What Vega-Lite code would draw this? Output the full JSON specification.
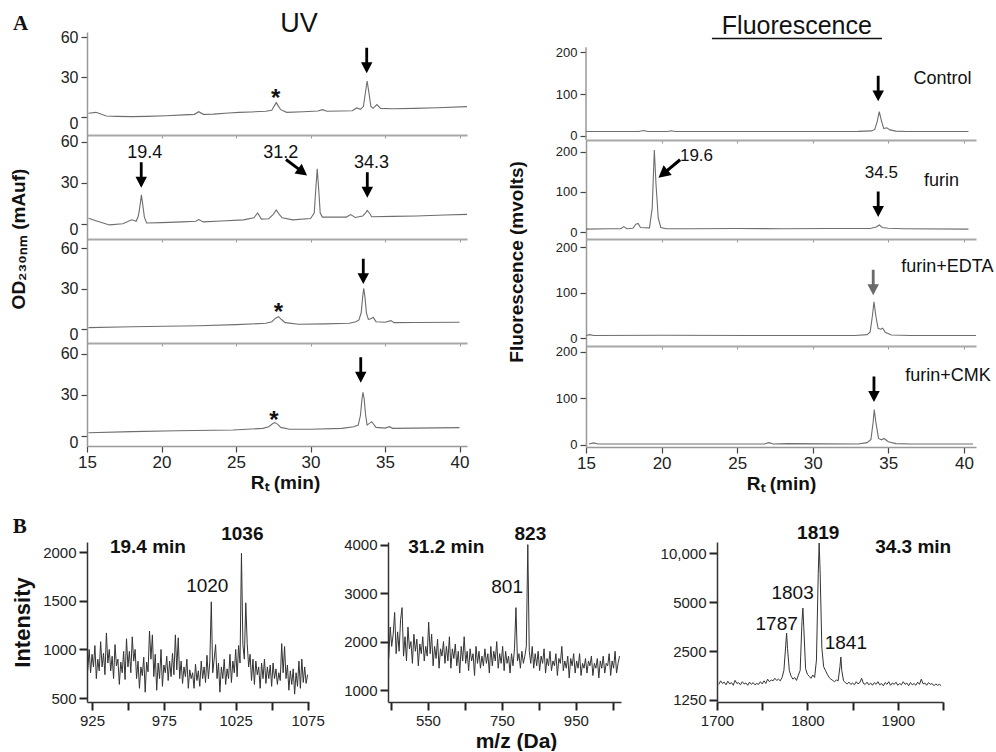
{
"$schema": "https://vega.github.io/schema/vega-lite/v6.json",
"background": "white",
"padding": {"left": 10, "top": 10, "right": 0, "bottom": 0},
"config": {"view": {"stroke": null}, "font": "Liberation Sans", "axis": {"labelFont": "Liberation Sans", "titleFont": "Liberation Sans", "grid": false}, "text": {"font": "Liberation Sans"}},
"datasets": {
"tr": [
{"p":"uv1","t":15.1,"v":2.8},{"p":"uv1","t":15.6,"v":3.5},{"p":"uv1","t":16.3,"v":0.8},{"p":"uv1","t":17,"v":0.5},{"p":"uv1","t":18,"v":0.3},{"p":"uv1","t":19,"v":0.5},{"p":"uv1","t":20.3,"v":1.0},{"p":"uv1","t":21.5,"v":1.6},{"p":"uv1","t":22.2,"v":2.0},{"p":"uv1","t":22.5,"v":4.0},{"p":"uv1","t":22.8,"v":2.0},{"p":"uv1","t":23.5,"v":2.2},{"p":"uv1","t":24.5,"v":3.0},{"p":"uv1","t":25.2,"v":3.5},{"p":"uv1","t":26,"v":3.8},{"p":"uv1","t":27,"v":4.3},{"p":"uv1","t":27.4,"v":5},{"p":"uv1","t":27.55,"v":8},{"p":"uv1","t":27.7,"v":10.8},{"p":"uv1","t":27.85,"v":8},{"p":"uv1","t":28,"v":5.5},{"p":"uv1","t":28.4,"v":3.5},{"p":"uv1","t":29.5,"v":4},{"p":"uv1","t":30.5,"v":4.5},{"p":"uv1","t":30.8,"v":5.5},{"p":"uv1","t":31.1,"v":4.3},{"p":"uv1","t":32,"v":4.5},{"p":"uv1","t":32.8,"v":4.7},{"p":"uv1","t":33.1,"v":6.8},{"p":"uv1","t":33.35,"v":5.8},{"p":"uv1","t":33.55,"v":8},{"p":"uv1","t":33.68,"v":18},{"p":"uv1","t":33.8,"v":27},{"p":"uv1","t":33.92,"v":18},{"p":"uv1","t":34.05,"v":8},{"p":"uv1","t":34.2,"v":6.5},{"p":"uv1","t":34.45,"v":9.3},{"p":"uv1","t":34.7,"v":6.5},{"p":"uv1","t":35.5,"v":6.2},{"p":"uv1","t":37,"v":6.5},{"p":"uv1","t":38.5,"v":7},{"p":"uv1","t":40.5,"v":7.8},
{"p":"uv2","t":15.1,"v":4.2},{"p":"uv2","t":15.6,"v":2.4},{"p":"uv2","t":16.5,"v":-0.7},{"p":"uv2","t":17.4,"v":0.2},{"p":"uv2","t":18,"v":3},{"p":"uv2","t":18.3,"v":2},{"p":"uv2","t":18.45,"v":6},{"p":"uv2","t":18.58,"v":15},{"p":"uv2","t":18.65,"v":21.2},{"p":"uv2","t":18.73,"v":15},{"p":"uv2","t":18.85,"v":5},{"p":"uv2","t":19,"v":0.7},{"p":"uv2","t":20,"v":1},{"p":"uv2","t":21.4,"v":1.5},{"p":"uv2","t":22.3,"v":2},{"p":"uv2","t":22.5,"v":3.2},{"p":"uv2","t":22.8,"v":1.5},{"p":"uv2","t":24,"v":2.2},{"p":"uv2","t":25.5,"v":3},{"p":"uv2","t":26.2,"v":4.5},{"p":"uv2","t":26.45,"v":8},{"p":"uv2","t":26.7,"v":3.5},{"p":"uv2","t":27.2,"v":3.8},{"p":"uv2","t":27.5,"v":7},{"p":"uv2","t":27.7,"v":10.2},{"p":"uv2","t":27.9,"v":7},{"p":"uv2","t":28.1,"v":4.5},{"p":"uv2","t":28.8,"v":3},{"p":"uv2","t":30,"v":4},{"p":"uv2","t":30.25,"v":8},{"p":"uv2","t":30.35,"v":25},{"p":"uv2","t":30.45,"v":40.3},{"p":"uv2","t":30.55,"v":25},{"p":"uv2","t":30.65,"v":8},{"p":"uv2","t":30.8,"v":5},{"p":"uv2","t":32.4,"v":5},{"p":"uv2","t":32.7,"v":6.8},{"p":"uv2","t":33,"v":4.7},{"p":"uv2","t":33.5,"v":5.8},{"p":"uv2","t":33.7,"v":8},{"p":"uv2","t":33.8,"v":9.8},{"p":"uv2","t":33.95,"v":8},{"p":"uv2","t":34.1,"v":5.3},{"p":"uv2","t":35.5,"v":5.5},{"p":"uv2","t":37.1,"v":5.8},{"p":"uv2","t":39,"v":6.5},{"p":"uv2","t":40.5,"v":7},
{"p":"uv3","t":15.1,"v":1},{"p":"uv3","t":18,"v":1.7},{"p":"uv3","t":22.5,"v":2.4},{"p":"uv3","t":25,"v":3.2},{"p":"uv3","t":27,"v":4.2},{"p":"uv3","t":27.4,"v":5.4},{"p":"uv3","t":27.65,"v":8},{"p":"uv3","t":27.85,"v":9.1},{"p":"uv3","t":28.05,"v":7},{"p":"uv3","t":28.3,"v":4.7},{"p":"uv3","t":29.2,"v":3.5},{"p":"uv3","t":31,"v":3.8},{"p":"uv3","t":32.6,"v":4.2},{"p":"uv3","t":33.05,"v":5.4},{"p":"uv3","t":33.25,"v":6.7},{"p":"uv3","t":33.4,"v":12},{"p":"uv3","t":33.5,"v":24},{"p":"uv3","t":33.57,"v":30.1},{"p":"uv3","t":33.65,"v":24},{"p":"uv3","t":33.75,"v":12},{"p":"uv3","t":33.88,"v":7.1},{"p":"uv3","t":34.05,"v":7.5},{"p":"uv3","t":34.2,"v":8.6},{"p":"uv3","t":34.4,"v":5.4},{"p":"uv3","t":35.0,"v":5},{"p":"uv3","t":35.4,"v":6.2},{"p":"uv3","t":35.6,"v":4.7},{"p":"uv3","t":37,"v":4.8},{"p":"uv3","t":40,"v":5},
{"p":"uv4","t":15.1,"v":2.4},{"p":"uv4","t":18,"v":3.2},{"p":"uv4","t":21,"v":3.8},{"p":"uv4","t":24.8,"v":4.4},{"p":"uv4","t":26.8,"v":5.6},{"p":"uv4","t":27.2,"v":6.8},{"p":"uv4","t":27.45,"v":9},{"p":"uv4","t":27.6,"v":9.8},{"p":"uv4","t":27.8,"v":8.5},{"p":"uv4","t":28,"v":6.3},{"p":"uv4","t":28.6,"v":4.9},{"p":"uv4","t":30,"v":5},{"p":"uv4","t":32.1,"v":5.6},{"p":"uv4","t":32.9,"v":6.8},{"p":"uv4","t":33.2,"v":8},{"p":"uv4","t":33.35,"v":15},{"p":"uv4","t":33.45,"v":27},{"p":"uv4","t":33.52,"v":32},{"p":"uv4","t":33.6,"v":27},{"p":"uv4","t":33.7,"v":15},{"p":"uv4","t":33.8,"v":8},{"p":"uv4","t":34.1,"v":10.5},{"p":"uv4","t":34.4,"v":6.3},{"p":"uv4","t":35,"v":5.8},{"p":"uv4","t":35.3,"v":6.8},{"p":"uv4","t":35.5,"v":5.6},{"p":"uv4","t":37,"v":5.8},{"p":"uv4","t":40,"v":6.1},
{"p":"fl1","t":15,"v":10},{"p":"fl1","t":18.5,"v":10},{"p":"fl1","t":18.8,"v":12.5},{"p":"fl1","t":19.1,"v":10},{"p":"fl1","t":20.4,"v":10},{"p":"fl1","t":20.65,"v":12},{"p":"fl1","t":20.9,"v":10},{"p":"fl1","t":25,"v":10},{"p":"fl1","t":30,"v":10},{"p":"fl1","t":33,"v":10.5},{"p":"fl1","t":33.9,"v":11.5},{"p":"fl1","t":34.1,"v":15},{"p":"fl1","t":34.25,"v":32},{"p":"fl1","t":34.4,"v":57.6},{"p":"fl1","t":34.55,"v":35},{"p":"fl1","t":34.7,"v":17},{"p":"fl1","t":34.9,"v":19},{"p":"fl1","t":35.1,"v":14},{"p":"fl1","t":35.5,"v":11},{"p":"fl1","t":36.2,"v":10},{"p":"fl1","t":40.3,"v":10},
{"p":"fl2","t":15,"v":8},{"p":"fl2","t":16.5,"v":9},{"p":"fl2","t":17.3,"v":9},{"p":"fl2","t":17.5,"v":14},{"p":"fl2","t":17.7,"v":9},{"p":"fl2","t":18.1,"v":10},{"p":"fl2","t":18.3,"v":20},{"p":"fl2","t":18.45,"v":22},{"p":"fl2","t":18.6,"v":12},{"p":"fl2","t":19.2,"v":11},{"p":"fl2","t":19.38,"v":60},{"p":"fl2","t":19.52,"v":204},{"p":"fl2","t":19.63,"v":120},{"p":"fl2","t":19.78,"v":35},{"p":"fl2","t":19.95,"v":12},{"p":"fl2","t":20.3,"v":9},{"p":"fl2","t":22,"v":9},{"p":"fl2","t":25,"v":9.5},{"p":"fl2","t":28,"v":9},{"p":"fl2","t":31,"v":9.5},{"p":"fl2","t":33.8,"v":9.5},{"p":"fl2","t":34.2,"v":13},{"p":"fl2","t":34.4,"v":18},{"p":"fl2","t":34.6,"v":12},{"p":"fl2","t":35,"v":10},{"p":"fl2","t":36,"v":9},{"p":"fl2","t":40.3,"v":8},
{"p":"fl3","t":15,"v":6},{"p":"fl3","t":15.25,"v":8},{"p":"fl3","t":15.5,"v":6},{"p":"fl3","t":20,"v":6.5},{"p":"fl3","t":26,"v":6},{"p":"fl3","t":32.8,"v":6},{"p":"fl3","t":33.6,"v":8},{"p":"fl3","t":33.8,"v":14},{"p":"fl3","t":33.95,"v":50},{"p":"fl3","t":34.05,"v":80},{"p":"fl3","t":34.17,"v":50},{"p":"fl3","t":34.32,"v":22},{"p":"fl3","t":34.5,"v":20},{"p":"fl3","t":34.62,"v":22},{"p":"fl3","t":34.8,"v":13},{"p":"fl3","t":35.2,"v":7},{"p":"fl3","t":36.5,"v":6},{"p":"fl3","t":40.8,"v":6},
{"p":"fl4","t":15.2,"v":2},{"p":"fl4","t":15.5,"v":4.5},{"p":"fl4","t":15.8,"v":2},{"p":"fl4","t":20,"v":2},{"p":"fl4","t":26.8,"v":2},{"p":"fl4","t":27.1,"v":5},{"p":"fl4","t":27.4,"v":2},{"p":"fl4","t":28.3,"v":3},{"p":"fl4","t":33,"v":2},{"p":"fl4","t":33.6,"v":5},{"p":"fl4","t":33.85,"v":12},{"p":"fl4","t":34.0,"v":50},{"p":"fl4","t":34.07,"v":76},{"p":"fl4","t":34.17,"v":50},{"p":"fl4","t":34.35,"v":14},{"p":"fl4","t":34.55,"v":11},{"p":"fl4","t":34.72,"v":14},{"p":"fl4","t":35,"v":7},{"p":"fl4","t":35.5,"v":3},{"p":"fl4","t":36.5,"v":2},{"p":"fl4","t":40.6,"v":2}
],
"arr": [
{"p":"uv1","t":33.77,"v":42.5},
{"p":"uv2","t":18.64,"v":35.8},{"p":"uv2","t":33.81,"v":28.5},
{"p":"uv2d","t":29.06,"v":41.3},
{"p":"uv3","t":33.54,"v":42.7},
{"p":"uv4","t":33.37,"v":48.3},
{"p":"fl1","t":34.33,"v":113.2},
{"p":"fl2","t":34.33,"v":69.7},
{"p":"fl2d","t":20.51,"v":157.6},
{"p":"fl3","t":34.0,"v":122.6},
{"p":"fl4","t":34.05,"v":119.5}
],
"ann": [
{"p":"uv1","k":"letter","t":10.55,"v":70.1,"label":"A"},
{"p":"uv1","k":"head","t":29.23,"v":69.8,"label":"UV"},
{"p":"uv1","k":"star","t":27.66,"v":8.5,"label":"*"},
{"p":"uv2","k":"num","t":18.88,"v":51.7,"label":"19.4"},
{"p":"uv2","k":"num","t":28.0,"v":51.7,"label":"31.2"},
{"p":"uv2","k":"num","t":34.09,"v":44.4,"label":"34.3"},
{"p":"uv2","k":"ytitle","t":10.44,"v":-11,"label":"OD₂₃₀ₙₘ (mAuf)"},
{"p":"uv3","k":"star","t":27.84,"v":6.6,"label":"*"},
{"p":"uv4","k":"star","t":27.55,"v":5.6,"label":"*"},
{"p":"fl1","k":"head","t":28.95,"v":263,"label":"Fluorescence"},
{"p":"fl1","k":"ul","t":23.33,"t2":34.58,"v":233,"label":""},
{"p":"fl1","k":"axis","t":15,"v":-10.3,"v2":212,"label":""},
{"p":"fl1","k":"cond","t":38.58,"v":134.8,"label":"Control"},
{"p":"fl2","k":"num","t":22.31,"v":189.8,"label":"19.6"},
{"p":"fl2","k":"num","t":34.54,"v":146.4,"label":"34.5"},
{"p":"fl2","k":"cond","t":38.51,"v":127.8,"label":"furin"},
{"p":"fl3","k":"cond","t":38.9,"v":155.6,"label":"furin+EDTA"},
{"p":"fl3","k":"ytitle","t":10.44,"v":167.7,"label":"Fluorescence (mvolts)"},
{"p":"fl4","k":"cond","t":38.95,"v":148.2,"label":"furin+CMK"}
],
"msann": [
{"p":"b1","k":"letter","mz":874.7,"i":2263,"label":"B"},
{"p":"b1","k":"bold","mz":963.9,"i":2058,"label":"19.4 min"},
{"p":"b1","k":"bold","mz":1029.6,"i":2188,"label":"1036"},
{"p":"b1","k":"norm","mz":1005.2,"i":1656,"label":"1020"},
{"p":"b2","k":"bold","mz":599.6,"i":3951,"label":"31.2 min"},
{"p":"b2","k":"bold","mz":827,"i":4226,"label":"823"},
{"p":"b2","k":"norm","mz":764,"i":3127,"label":"801"},
{"p":"b3","k":"bold","mz":1812,"i":13280,"label":"1819"},
{"p":"b3","k":"bold","mz":1917,"i":10980,"label":"34.3 min"},
{"p":"b3","k":"norm","mz":1783.6,"i":5737,"label":"1803"},
{"p":"b3","k":"norm","mz":1766,"i":3660,"label":"1787"},
{"p":"b3","k":"norm","mz":1842.5,"i":2822,"label":"1841"}
],
"ms": [
{"p":"b1","mz":922,"i":780},{"p":"b1","mz":923,"i":1000},{"p":"b1","mz":924,"i":760},{"p":"b1","mz":925,"i":950},{"p":"b1","mz":926,"i":820},{"p":"b1","mz":927,"i":1040},{"p":"b1","mz":928,"i":700},{"p":"b1","mz":929,"i":900},{"p":"b1","mz":930,"i":780},{"p":"b1","mz":931,"i":1080},{"p":"b1","mz":932,"i":820},{"p":"b1","mz":933,"i":960},{"p":"b1","mz":934,"i":740},{"p":"b1","mz":935,"i":1170},{"p":"b1","mz":936,"i":860},{"p":"b1","mz":937,"i":1000},{"p":"b1","mz":938,"i":780},{"p":"b1","mz":939,"i":930},{"p":"b1","mz":940,"i":700},{"p":"b1","mz":941,"i":1050},{"p":"b1","mz":942,"i":830},{"p":"b1","mz":943,"i":900},{"p":"b1","mz":944,"i":640},{"p":"b1","mz":945,"i":870},{"p":"b1","mz":946,"i":760},{"p":"b1","mz":947,"i":980},{"p":"b1","mz":948,"i":690},{"p":"b1","mz":949,"i":1110},{"p":"b1","mz":950,"i":820},{"p":"b1","mz":951,"i":980},{"p":"b1","mz":952,"i":760},{"p":"b1","mz":953,"i":1130},{"p":"b1","mz":954,"i":880},{"p":"b1","mz":955,"i":1000},{"p":"b1","mz":956,"i":700},{"p":"b1","mz":957,"i":880},{"p":"b1","mz":958,"i":600},{"p":"b1","mz":959,"i":820},{"p":"b1","mz":960,"i":730},{"p":"b1","mz":961,"i":920},{"p":"b1","mz":962,"i":560},{"p":"b1","mz":963,"i":870},{"p":"b1","mz":964,"i":770},{"p":"b1","mz":965,"i":1190},{"p":"b1","mz":966,"i":900},{"p":"b1","mz":967,"i":1150},{"p":"b1","mz":968,"i":720},{"p":"b1","mz":969,"i":950},{"p":"b1","mz":970,"i":580},{"p":"b1","mz":971,"i":860},{"p":"b1","mz":972,"i":700},{"p":"b1","mz":973,"i":1000},{"p":"b1","mz":974,"i":620},{"p":"b1","mz":975,"i":840},{"p":"b1","mz":976,"i":760},{"p":"b1","mz":977,"i":930},{"p":"b1","mz":978,"i":680},{"p":"b1","mz":979,"i":880},{"p":"b1","mz":980,"i":720},{"p":"b1","mz":981,"i":960},{"p":"b1","mz":982,"i":740},{"p":"b1","mz":983,"i":1150},{"p":"b1","mz":984,"i":790},{"p":"b1","mz":985,"i":1120},{"p":"b1","mz":986,"i":700},{"p":"b1","mz":987,"i":880},{"p":"b1","mz":988,"i":650},{"p":"b1","mz":989,"i":820},{"p":"b1","mz":990,"i":720},{"p":"b1","mz":991,"i":900},{"p":"b1","mz":992,"i":600},{"p":"b1","mz":993,"i":790},{"p":"b1","mz":994,"i":700},{"p":"b1","mz":995,"i":760},{"p":"b1","mz":996,"i":600},{"p":"b1","mz":997,"i":850},{"p":"b1","mz":998,"i":680},{"p":"b1","mz":999,"i":780},{"p":"b1","mz":1000,"i":620},{"p":"b1","mz":1001,"i":880},{"p":"b1","mz":1002,"i":700},{"p":"b1","mz":1003,"i":820},{"p":"b1","mz":1004,"i":660},{"p":"b1","mz":1005,"i":940},{"p":"b1","mz":1006,"i":700},{"p":"b1","mz":1007,"i":880},{"p":"b1","mz":1008,"i":1490},{"p":"b1","mz":1009,"i":760},{"p":"b1","mz":1010,"i":900},{"p":"b1","mz":1011,"i":1050},{"p":"b1","mz":1012,"i":700},{"p":"b1","mz":1013,"i":860},{"p":"b1","mz":1014,"i":560},{"p":"b1","mz":1015,"i":820},{"p":"b1","mz":1016,"i":700},{"p":"b1","mz":1017,"i":900},{"p":"b1","mz":1018,"i":640},{"p":"b1","mz":1019,"i":800},{"p":"b1","mz":1020,"i":700},{"p":"b1","mz":1021,"i":950},{"p":"b1","mz":1022,"i":660},{"p":"b1","mz":1023,"i":880},{"p":"b1","mz":1024,"i":760},{"p":"b1","mz":1025,"i":1000},{"p":"b1","mz":1026,"i":720},{"p":"b1","mz":1027,"i":1040},{"p":"b1","mz":1028,"i":860},{"p":"b1","mz":1029,"i":1990},{"p":"b1","mz":1030,"i":1050},{"p":"b1","mz":1031,"i":900},{"p":"b1","mz":1032,"i":1480},{"p":"b1","mz":1033,"i":1060},{"p":"b1","mz":1034,"i":820},{"p":"b1","mz":1035,"i":950},{"p":"b1","mz":1036,"i":680},{"p":"b1","mz":1037,"i":900},{"p":"b1","mz":1038,"i":640},{"p":"b1","mz":1039,"i":880},{"p":"b1","mz":1040,"i":740},{"p":"b1","mz":1041,"i":820},{"p":"b1","mz":1042,"i":600},{"p":"b1","mz":1043,"i":860},{"p":"b1","mz":1044,"i":700},{"p":"b1","mz":1045,"i":900},{"p":"b1","mz":1046,"i":650},{"p":"b1","mz":1047,"i":820},{"p":"b1","mz":1048,"i":700},{"p":"b1","mz":1049,"i":840},{"p":"b1","mz":1050,"i":620},{"p":"b1","mz":1051,"i":860},{"p":"b1","mz":1052,"i":700},{"p":"b1","mz":1053,"i":800},{"p":"b1","mz":1054,"i":640},{"p":"b1","mz":1055,"i":760},{"p":"b1","mz":1056,"i":680},{"p":"b1","mz":1057,"i":1060},{"p":"b1","mz":1058,"i":760},{"p":"b1","mz":1059,"i":1030},{"p":"b1","mz":1060,"i":700},{"p":"b1","mz":1061,"i":840},{"p":"b1","mz":1062,"i":580},{"p":"b1","mz":1063,"i":780},{"p":"b1","mz":1064,"i":640},{"p":"b1","mz":1065,"i":800},{"p":"b1","mz":1066,"i":540},{"p":"b1","mz":1067,"i":760},{"p":"b1","mz":1068,"i":620},{"p":"b1","mz":1069,"i":880},{"p":"b1","mz":1070,"i":600},{"p":"b1","mz":1071,"i":900},{"p":"b1","mz":1072,"i":660},{"p":"b1","mz":1073,"i":820},{"p":"b1","mz":1074,"i":650},{"p":"b1","mz":1075,"i":740},
{"p":"b2","mz":444,"i":1650},{"p":"b2","mz":448,"i":2300},{"p":"b2","mz":452,"i":1900},{"p":"b2","mz":456,"i":2150},{"p":"b2","mz":460,"i":2600},{"p":"b2","mz":464,"i":1750},{"p":"b2","mz":468,"i":2200},{"p":"b2","mz":472,"i":1800},{"p":"b2","mz":476,"i":2450},{"p":"b2","mz":480,"i":2700},{"p":"b2","mz":484,"i":1700},{"p":"b2","mz":488,"i":2100},{"p":"b2","mz":492,"i":1600},{"p":"b2","mz":496,"i":2300},{"p":"b2","mz":500,"i":1850},{"p":"b2","mz":504,"i":2000},{"p":"b2","mz":508,"i":1550},{"p":"b2","mz":512,"i":2150},{"p":"b2","mz":516,"i":1800},{"p":"b2","mz":520,"i":2050},{"p":"b2","mz":524,"i":1500},{"p":"b2","mz":528,"i":1950},{"p":"b2","mz":532,"i":1750},{"p":"b2","mz":536,"i":2100},{"p":"b2","mz":540,"i":1600},{"p":"b2","mz":544,"i":1900},{"p":"b2","mz":548,"i":1700},{"p":"b2","mz":552,"i":2400},{"p":"b2","mz":556,"i":1750},{"p":"b2","mz":560,"i":2150},{"p":"b2","mz":564,"i":1500},{"p":"b2","mz":568,"i":1900},{"p":"b2","mz":572,"i":1650},{"p":"b2","mz":576,"i":2050},{"p":"b2","mz":580,"i":1450},{"p":"b2","mz":584,"i":1850},{"p":"b2","mz":588,"i":1700},{"p":"b2","mz":592,"i":2000},{"p":"b2","mz":596,"i":1550},{"p":"b2","mz":600,"i":1900},{"p":"b2","mz":604,"i":1600},{"p":"b2","mz":608,"i":2100},{"p":"b2","mz":612,"i":1450},{"p":"b2","mz":616,"i":1850},{"p":"b2","mz":620,"i":1650},{"p":"b2","mz":624,"i":1950},{"p":"b2","mz":628,"i":1500},{"p":"b2","mz":632,"i":1800},{"p":"b2","mz":636,"i":1350},{"p":"b2","mz":640,"i":1900},{"p":"b2","mz":644,"i":1600},{"p":"b2","mz":648,"i":2100},{"p":"b2","mz":652,"i":1550},{"p":"b2","mz":656,"i":1800},{"p":"b2","mz":660,"i":1400},{"p":"b2","mz":664,"i":1850},{"p":"b2","mz":668,"i":1600},{"p":"b2","mz":672,"i":1750},{"p":"b2","mz":676,"i":1300},{"p":"b2","mz":680,"i":1900},{"p":"b2","mz":684,"i":1550},{"p":"b2","mz":688,"i":1800},{"p":"b2","mz":692,"i":1450},{"p":"b2","mz":696,"i":1700},{"p":"b2","mz":700,"i":1500},{"p":"b2","mz":704,"i":1850},{"p":"b2","mz":708,"i":1550},{"p":"b2","mz":712,"i":1750},{"p":"b2","mz":716,"i":1350},{"p":"b2","mz":720,"i":1900},{"p":"b2","mz":724,"i":1500},{"p":"b2","mz":728,"i":1800},{"p":"b2","mz":732,"i":1600},{"p":"b2","mz":736,"i":2000},{"p":"b2","mz":740,"i":1450},{"p":"b2","mz":744,"i":1750},{"p":"b2","mz":748,"i":1550},{"p":"b2","mz":752,"i":1900},{"p":"b2","mz":756,"i":1400},{"p":"b2","mz":760,"i":1800},{"p":"b2","mz":764,"i":1550},{"p":"b2","mz":768,"i":1700},{"p":"b2","mz":772,"i":1350},{"p":"b2","mz":776,"i":1750},{"p":"b2","mz":780,"i":1500},{"p":"b2","mz":784,"i":1850},{"p":"b2","mz":788,"i":2700},{"p":"b2","mz":792,"i":1600},{"p":"b2","mz":796,"i":1750},{"p":"b2","mz":800,"i":1450},{"p":"b2","mz":804,"i":1800},{"p":"b2","mz":808,"i":1550},{"p":"b2","mz":812,"i":1700},{"p":"b2","mz":816,"i":1900},{"p":"b2","mz":820,"i":4000},{"p":"b2","mz":824,"i":1800},{"p":"b2","mz":828,"i":1550},{"p":"b2","mz":832,"i":1900},{"p":"b2","mz":836,"i":1450},{"p":"b2","mz":840,"i":1750},{"p":"b2","mz":844,"i":1500},{"p":"b2","mz":848,"i":1800},{"p":"b2","mz":852,"i":1400},{"p":"b2","mz":856,"i":1700},{"p":"b2","mz":860,"i":1550},{"p":"b2","mz":864,"i":1850},{"p":"b2","mz":868,"i":1350},{"p":"b2","mz":872,"i":1650},{"p":"b2","mz":876,"i":1500},{"p":"b2","mz":880,"i":1800},{"p":"b2","mz":884,"i":1400},{"p":"b2","mz":888,"i":1600},{"p":"b2","mz":892,"i":1500},{"p":"b2","mz":896,"i":1750},{"p":"b2","mz":900,"i":1300},{"p":"b2","mz":904,"i":1650},{"p":"b2","mz":908,"i":1550},{"p":"b2","mz":912,"i":1900},{"p":"b2","mz":916,"i":1400},{"p":"b2","mz":920,"i":1600},{"p":"b2","mz":924,"i":1450},{"p":"b2","mz":928,"i":1700},{"p":"b2","mz":932,"i":1250},{"p":"b2","mz":936,"i":1650},{"p":"b2","mz":940,"i":1500},{"p":"b2","mz":944,"i":1750},{"p":"b2","mz":948,"i":1350},{"p":"b2","mz":952,"i":1600},{"p":"b2","mz":956,"i":1450},{"p":"b2","mz":960,"i":1750},{"p":"b2","mz":964,"i":1300},{"p":"b2","mz":968,"i":1550},{"p":"b2","mz":972,"i":1450},{"p":"b2","mz":976,"i":1650},{"p":"b2","mz":980,"i":1350},{"p":"b2","mz":984,"i":1600},{"p":"b2","mz":988,"i":1500},{"p":"b2","mz":992,"i":1700},{"p":"b2","mz":996,"i":1300},{"p":"b2","mz":1000,"i":1550},{"p":"b2","mz":1004,"i":1450},{"p":"b2","mz":1008,"i":1650},{"p":"b2","mz":1012,"i":1250},{"p":"b2","mz":1016,"i":1600},{"p":"b2","mz":1020,"i":1450},{"p":"b2","mz":1024,"i":1700},{"p":"b2","mz":1028,"i":1350},{"p":"b2","mz":1032,"i":1550},{"p":"b2","mz":1036,"i":1500},{"p":"b2","mz":1040,"i":1750},{"p":"b2","mz":1044,"i":1300},{"p":"b2","mz":1048,"i":1600},{"p":"b2","mz":1052,"i":1450},{"p":"b2","mz":1056,"i":1800},{"p":"b2","mz":1060,"i":1350},{"p":"b2","mz":1064,"i":1550},{"p":"b2","mz":1068,"i":1700},
{"p":"b3","mz":1702,"i":1560},{"p":"b3","mz":1704,"i":1640},{"p":"b3","mz":1706,"i":1580},{"p":"b3","mz":1708,"i":1610},{"p":"b3","mz":1710,"i":1550},{"p":"b3","mz":1712,"i":1630},{"p":"b3","mz":1714,"i":1570},{"p":"b3","mz":1716,"i":1600},{"p":"b3","mz":1718,"i":1540},{"p":"b3","mz":1720,"i":1650},{"p":"b3","mz":1722,"i":1580},{"p":"b3","mz":1724,"i":1600},{"p":"b3","mz":1726,"i":1550},{"p":"b3","mz":1728,"i":1620},{"p":"b3","mz":1730,"i":1570},{"p":"b3","mz":1732,"i":1590},{"p":"b3","mz":1734,"i":1540},{"p":"b3","mz":1736,"i":1610},{"p":"b3","mz":1738,"i":1560},{"p":"b3","mz":1740,"i":1600},{"p":"b3","mz":1742,"i":1550},{"p":"b3","mz":1744,"i":1580},{"p":"b3","mz":1746,"i":1560},{"p":"b3","mz":1748,"i":1620},{"p":"b3","mz":1750,"i":1570},{"p":"b3","mz":1752,"i":1640},{"p":"b3","mz":1754,"i":1580},{"p":"b3","mz":1756,"i":1680},{"p":"b3","mz":1758,"i":1620},{"p":"b3","mz":1760,"i":1660},{"p":"b3","mz":1762,"i":1640},{"p":"b3","mz":1764,"i":1700},{"p":"b3","mz":1766,"i":1650},{"p":"b3","mz":1768,"i":1680},{"p":"b3","mz":1770,"i":1640},{"p":"b3","mz":1772,"i":1720},{"p":"b3","mz":1774,"i":1900},{"p":"b3","mz":1776,"i":2700},{"p":"b3","mz":1777,"i":3230},{"p":"b3","mz":1778,"i":2600},{"p":"b3","mz":1780,"i":1900},{"p":"b3","mz":1782,"i":1750},{"p":"b3","mz":1784,"i":1680},{"p":"b3","mz":1786,"i":1720},{"p":"b3","mz":1788,"i":1650},{"p":"b3","mz":1790,"i":1780},{"p":"b3","mz":1792,"i":1900},{"p":"b3","mz":1794,"i":3800},{"p":"b3","mz":1795,"i":4600},{"p":"b3","mz":1796,"i":3500},{"p":"b3","mz":1798,"i":1950},{"p":"b3","mz":1800,"i":1800},{"p":"b3","mz":1802,"i":1750},{"p":"b3","mz":1804,"i":1700},{"p":"b3","mz":1806,"i":1780},{"p":"b3","mz":1808,"i":1720},{"p":"b3","mz":1810,"i":2200},{"p":"b3","mz":1812,"i":7500},{"p":"b3","mz":1813,"i":11570},{"p":"b3","mz":1814,"i":8000},{"p":"b3","mz":1816,"i":2600},{"p":"b3","mz":1818,"i":2000},{"p":"b3","mz":1820,"i":1900},{"p":"b3","mz":1822,"i":1800},{"p":"b3","mz":1824,"i":1720},{"p":"b3","mz":1826,"i":1680},{"p":"b3","mz":1828,"i":1650},{"p":"b3","mz":1830,"i":1620},{"p":"b3","mz":1832,"i":1660},{"p":"b3","mz":1834,"i":1640},{"p":"b3","mz":1836,"i":2000},{"p":"b3","mz":1837,"i":2300},{"p":"b3","mz":1838,"i":1900},{"p":"b3","mz":1840,"i":1640},{"p":"b3","mz":1842,"i":1600},{"p":"b3","mz":1844,"i":1570},{"p":"b3","mz":1846,"i":1610},{"p":"b3","mz":1848,"i":1560},{"p":"b3","mz":1850,"i":1590},{"p":"b3","mz":1852,"i":1550},{"p":"b3","mz":1854,"i":1620},{"p":"b3","mz":1856,"i":1570},{"p":"b3","mz":1858,"i":1600},{"p":"b3","mz":1860,"i":1700},{"p":"b3","mz":1862,"i":1580},{"p":"b3","mz":1864,"i":1560},{"p":"b3","mz":1866,"i":1610},{"p":"b3","mz":1868,"i":1550},{"p":"b3","mz":1870,"i":1590},{"p":"b3","mz":1872,"i":1540},{"p":"b3","mz":1874,"i":1600},{"p":"b3","mz":1876,"i":1560},{"p":"b3","mz":1878,"i":1620},{"p":"b3","mz":1880,"i":1550},{"p":"b3","mz":1882,"i":1580},{"p":"b3","mz":1884,"i":1530},{"p":"b3","mz":1886,"i":1600},{"p":"b3","mz":1888,"i":1560},{"p":"b3","mz":1890,"i":1620},{"p":"b3","mz":1892,"i":1540},{"p":"b3","mz":1894,"i":1590},{"p":"b3","mz":1896,"i":1560},{"p":"b3","mz":1898,"i":1610},{"p":"b3","mz":1900,"i":1540},{"p":"b3","mz":1902,"i":1580},{"p":"b3","mz":1904,"i":1550},{"p":"b3","mz":1906,"i":1620},{"p":"b3","mz":1908,"i":1560},{"p":"b3","mz":1910,"i":1590},{"p":"b3","mz":1912,"i":1530},{"p":"b3","mz":1914,"i":1600},{"p":"b3","mz":1916,"i":1550},{"p":"b3","mz":1918,"i":1580},{"p":"b3","mz":1920,"i":1540},{"p":"b3","mz":1922,"i":1610},{"p":"b3","mz":1924,"i":1560},{"p":"b3","mz":1926,"i":1680},{"p":"b3","mz":1928,"i":1570},{"p":"b3","mz":1930,"i":1590},{"p":"b3","mz":1932,"i":1540},{"p":"b3","mz":1934,"i":1600},{"p":"b3","mz":1936,"i":1560},{"p":"b3","mz":1938,"i":1580},{"p":"b3","mz":1940,"i":1530},{"p":"b3","mz":1942,"i":1570},{"p":"b3","mz":1944,"i":1540},{"p":"b3","mz":1946,"i":1560},{"p":"b3","mz":1948,"i":1530}
]
},
"vconcat": [
{"hconcat": [
{"vconcat": [
{"width": 380, "height": 103,
 "encoding": {"x": {"field": "t", "type": "quantitative", "scale": {"domain": [15, 40.5], "nice": false, "zero": false}, "axis": {"values": [15,20,25,30,35,40], "labels": false, "tickSize": 3, "tickColor": "#999", "domainColor": "#a8a8a8", "domainWidth": 2, "title": null}},
  "y": {"field": "v", "type": "quantitative", "scale": {"domain": [-13.5, 63.8], "nice": false, "zero": false}, "axis": {"values": [0,30,60], "title": null, "domainColor": "#999", "domainWidth": 1.5, "tickSize": 6, "tickColor": "#444", "tickWidth": 1.2, "labelFontSize": 16, "labelColor": "#222", "labelPadding": 3, "labelFlush": false, "labelOffset": {"condition": {"test": "datum.value == 0", "value": 6}, "value": 0}}}},
 "layer": [
  {"data": {"name": "tr"}, "transform": [{"filter": "datum.p == 'uv1'"}], "mark": {"type": "line", "color": "#6e6e6e", "strokeWidth": 1.1}},
  {"data": {"name": "arr"}, "transform": [{"filter": "datum.p == 'uv1'"}], "mark": {"type": "point", "shape": "M-0.11,-1L0.11,-1L0.11,0.15L0.45,0.15L0,1L-0.45,0.15L-0.11,0.15Z", "filled": true, "color": "#000", "size": 650, "opacity": 1, "strokeWidth": 0}},
  {"data": {"name": "ann"}, "transform": [{"filter": "datum.p == 'uv1' && datum.k == 'star'"}], "mark": {"type": "text", "fontSize": 24, "fontWeight": "bold", "baseline": "alphabetic", "color": "#111"}, "encoding": {"text": {"field": "label", "type": "nominal"}}},
  {"data": {"name": "ann"}, "transform": [{"filter": "datum.p == 'uv1' && datum.k == 'head'"}], "mark": {"type": "text", "fontSize": 27, "color": "#111"}, "encoding": {"text": {"field": "label", "type": "nominal"}}},
  {"data": {"name": "ann"}, "transform": [{"filter": "datum.p == 'uv1' && datum.k == 'letter'"}], "mark": {"type": "text", "fontSize": 21, "fontWeight": "bold", "font": "Liberation Serif", "color": "#111"}, "encoding": {"text": {"field": "label", "type": "nominal"}}}
 ]},
{"width": 380, "height": 104,
 "encoding": {"x": {"field": "t", "type": "quantitative", "scale": {"domain": [15, 40.5], "nice": false, "zero": false}, "axis": {"values": [15,20,25,30,35,40], "labels": false, "tickSize": 3, "tickColor": "#999", "domainColor": "#a8a8a8", "domainWidth": 2, "title": null}},
  "y": {"field": "v", "type": "quantitative", "scale": {"domain": [-11, 65], "nice": false, "zero": false}, "axis": {"values": [0,30,60], "title": null, "domainColor": "#999", "domainWidth": 1.5, "tickSize": 6, "tickColor": "#444", "tickWidth": 1.2, "labelFontSize": 16, "labelColor": "#222", "labelPadding": 3, "labelFlush": false, "labelOffset": {"condition": {"test": "datum.value == 0", "value": 6}, "value": 0}}}},
 "layer": [
  {"data": {"name": "tr"}, "transform": [{"filter": "datum.p == 'uv2'"}], "mark": {"type": "line", "color": "#6e6e6e", "strokeWidth": 1.1}},
  {"data": {"name": "arr"}, "transform": [{"filter": "datum.p == 'uv2'"}], "mark": {"type": "point", "shape": "M-0.11,-1L0.11,-1L0.11,0.15L0.45,0.15L0,1L-0.45,0.15L-0.11,0.15Z", "filled": true, "color": "#000", "size": 650, "opacity": 1, "strokeWidth": 0}},
  {"data": {"name": "arr"}, "transform": [{"filter": "datum.p == 'uv2d'"}], "mark": {"type": "point", "shape": "M-0.11,-1L0.11,-1L0.11,0.15L0.45,0.15L0,1L-0.45,0.15L-0.11,0.15Z", "filled": true, "color": "#000", "size": 700, "opacity": 1, "strokeWidth": 0, "angle": 307}},
  {"data": {"name": "ann"}, "transform": [{"filter": "datum.p == 'uv2' && datum.k == 'num'"}], "mark": {"type": "text", "fontSize": 18, "color": "#111"}, "encoding": {"text": {"field": "label", "type": "nominal"}}},
  {"data": {"name": "ann"}, "transform": [{"filter": "datum.p == 'uv2' && datum.k == 'ytitle'"}], "mark": {"type": "text", "fontSize": 19, "fontWeight": "bold", "angle": 270, "color": "#111"}, "encoding": {"text": {"field": "label", "type": "nominal"}}}
 ]},
{"width": 380, "height": 104,
 "encoding": {"x": {"field": "t", "type": "quantitative", "scale": {"domain": [15, 40.5], "nice": false, "zero": false}, "axis": {"values": [15,20,25,30,35,40], "labels": false, "tickSize": 3, "tickColor": "#999", "domainColor": "#a8a8a8", "domainWidth": 2, "title": null}},
  "y": {"field": "v", "type": "quantitative", "scale": {"domain": [-10.4, 66.7], "nice": false, "zero": false}, "axis": {"values": [0,30,60], "title": null, "domainColor": "#999", "domainWidth": 1.5, "tickSize": 6, "tickColor": "#444", "tickWidth": 1.2, "labelFontSize": 16, "labelColor": "#222", "labelPadding": 3, "labelFlush": false, "labelOffset": {"condition": {"test": "datum.value == 0", "value": 6}, "value": 0}}}},
 "layer": [
  {"data": {"name": "tr"}, "transform": [{"filter": "datum.p == 'uv3'"}], "mark": {"type": "line", "color": "#6e6e6e", "strokeWidth": 1.1}},
  {"data": {"name": "arr"}, "transform": [{"filter": "datum.p == 'uv3'"}], "mark": {"type": "point", "shape": "M-0.11,-1L0.11,-1L0.11,0.15L0.45,0.15L0,1L-0.45,0.15L-0.11,0.15Z", "filled": true, "color": "#000", "size": 650, "opacity": 1, "strokeWidth": 0}},
  {"data": {"name": "ann"}, "transform": [{"filter": "datum.p == 'uv3' && datum.k == 'star'"}], "mark": {"type": "text", "fontSize": 24, "fontWeight": "bold", "baseline": "alphabetic", "color": "#111"}, "encoding": {"text": {"field": "label", "type": "nominal"}}}
 ]},
{"width": 380, "height": 103,
 "encoding": {"x": {"field": "t", "type": "quantitative", "scale": {"domain": [15, 40.5], "nice": false, "zero": false}, "axis": {"values": [15,20,25,30,35,40], "tickSize": 6, "tickColor": "#444", "tickWidth": 1.2, "domainColor": "#999", "domainWidth": 1.5, "labelFontSize": 17, "labelColor": "#222", "labelFlush": false, "labelPadding": 2, "title": "Rₜ (min)", "titleFontSize": 19, "titleFontWeight": "bold", "titleColor": "#111", "titleX": 198, "titleAlign": "center", "titlePadding": 3}},
  "y": {"field": "v", "type": "quantitative", "scale": {"domain": [-7.3, 68], "nice": false, "zero": false}, "axis": {"values": [0,30,60], "title": null, "domainColor": "#999", "domainWidth": 1.5, "tickSize": 6, "tickColor": "#444", "tickWidth": 1.2, "labelFontSize": 16, "labelColor": "#222", "labelPadding": 3, "labelFlush": false, "labelOffset": {"condition": {"test": "datum.value == 0", "value": 6}, "value": 0}}}},
 "layer": [
  {"data": {"name": "tr"}, "transform": [{"filter": "datum.p == 'uv4'"}], "mark": {"type": "line", "color": "#6e6e6e", "strokeWidth": 1.1}},
  {"data": {"name": "arr"}, "transform": [{"filter": "datum.p == 'uv4'"}], "mark": {"type": "point", "shape": "M-0.11,-1L0.11,-1L0.11,0.15L0.45,0.15L0,1L-0.45,0.15L-0.11,0.15Z", "filled": true, "color": "#000", "size": 650, "opacity": 1, "strokeWidth": 0}},
  {"data": {"name": "ann"}, "transform": [{"filter": "datum.p == 'uv4' && datum.k == 'star'"}], "mark": {"type": "text", "fontSize": 24, "fontWeight": "bold", "baseline": "alphabetic", "color": "#111"}, "encoding": {"text": {"field": "label", "type": "nominal"}}}
 ]}
], "spacing": 0, "bounds": "flush"},
{"vconcat": [
{"width": 390, "height": 108,
 "encoding": {"x": {"field": "t", "type": "quantitative", "scale": {"domain": [15, 40.8], "nice": false, "zero": false}, "axis": {"values": [15,20,25,30,35,40], "labels": false, "tickSize": 3, "tickColor": "#999", "domainColor": "#a8a8a8", "domainWidth": 2, "title": null}},
  "y": {"field": "v", "type": "quantitative", "scale": {"domain": [-10.3, 248.7], "nice": false, "zero": false}, "axis": {"values": [0,100,200], "title": null, "domain": false, "tickSize": 6, "tickColor": "#444", "tickWidth": 1.2, "labelFontSize": 13, "labelColor": "#222", "labelPadding": 3, "labelFlush": false}}},
 "layer": [
  {"data": {"name": "ann"}, "transform": [{"filter": "datum.p == 'fl1' && datum.k == 'axis'"}], "mark": {"type": "rule", "color": "#999", "strokeWidth": 1.5}, "encoding": {"y2": {"field": "v2"}}},
  {"data": {"name": "tr"}, "transform": [{"filter": "datum.p == 'fl1'"}], "mark": {"type": "line", "color": "#6e6e6e", "strokeWidth": 1.1}},
  {"data": {"name": "arr"}, "transform": [{"filter": "datum.p == 'fl1'"}], "mark": {"type": "point", "shape": "M-0.11,-1L0.11,-1L0.11,0.15L0.45,0.15L0,1L-0.45,0.15L-0.11,0.15Z", "filled": true, "color": "#000", "size": 650, "opacity": 1, "strokeWidth": 0}},
  {"data": {"name": "ann"}, "transform": [{"filter": "datum.p == 'fl1' && datum.k == 'head'"}], "mark": {"type": "text", "fontSize": 25, "color": "#111"}, "encoding": {"text": {"field": "label", "type": "nominal"}}},
  {"data": {"name": "ann"}, "transform": [{"filter": "datum.p == 'fl1' && datum.k == 'ul'"}], "mark": {"type": "rule", "color": "#111", "strokeWidth": 1.5}, "encoding": {"x2": {"field": "t2"}}},
  {"data": {"name": "ann"}, "transform": [{"filter": "datum.p == 'fl1' && datum.k == 'cond'"}], "mark": {"type": "text", "fontSize": 18, "color": "#111"}, "encoding": {"text": {"field": "label", "type": "nominal"}}}
 ]},
{"width": 390, "height": 99,
 "encoding": {"x": {"field": "t", "type": "quantitative", "scale": {"domain": [15, 40.8], "nice": false, "zero": false}, "axis": {"values": [15,20,25,30,35,40], "labels": false, "tickSize": 3, "tickColor": "#999", "domainColor": "#a8a8a8", "domainWidth": 2, "title": null}},
  "y": {"field": "v", "type": "quantitative", "scale": {"domain": [-16.6, 229], "nice": false, "zero": false}, "axis": {"values": [0,100,200], "title": null, "domainColor": "#999", "domainWidth": 1.5, "tickSize": 6, "tickColor": "#444", "tickWidth": 1.2, "labelFontSize": 13, "labelColor": "#222", "labelPadding": 3, "labelFlush": false}}},
 "layer": [
  {"data": {"name": "tr"}, "transform": [{"filter": "datum.p == 'fl2'"}], "mark": {"type": "line", "color": "#6e6e6e", "strokeWidth": 1.1}},
  {"data": {"name": "arr"}, "transform": [{"filter": "datum.p == 'fl2'"}], "mark": {"type": "point", "shape": "M-0.11,-1L0.11,-1L0.11,0.15L0.45,0.15L0,1L-0.45,0.15L-0.11,0.15Z", "filled": true, "color": "#000", "size": 650, "opacity": 1, "strokeWidth": 0}},
  {"data": {"name": "arr"}, "transform": [{"filter": "datum.p == 'fl2d'"}], "mark": {"type": "point", "shape": "M-0.11,-1L0.11,-1L0.11,0.15L0.45,0.15L0,1L-0.45,0.15L-0.11,0.15Z", "filled": true, "color": "#000", "size": 800, "opacity": 1, "strokeWidth": 0, "angle": 50}},
  {"data": {"name": "ann"}, "transform": [{"filter": "datum.p == 'fl2' && datum.k == 'num'"}], "mark": {"type": "text", "fontSize": 17, "color": "#111"}, "encoding": {"text": {"field": "label", "type": "nominal"}}},
  {"data": {"name": "ann"}, "transform": [{"filter": "datum.p == 'fl2' && datum.k == 'cond'"}], "mark": {"type": "text", "fontSize": 18, "color": "#111"}, "encoding": {"text": {"field": "label", "type": "nominal"}}}
 ]},
{"width": 390, "height": 107,
 "encoding": {"x": {"field": "t", "type": "quantitative", "scale": {"domain": [15, 40.8], "nice": false, "zero": false}, "axis": {"values": [15,20,25,30,35,40], "labels": false, "tickSize": 3, "tickColor": "#999", "domainColor": "#a8a8a8", "domainWidth": 2, "title": null}},
  "y": {"field": "v", "type": "quantitative", "scale": {"domain": [-17, 218], "nice": false, "zero": false}, "axis": {"values": [0,100,200], "title": null, "domainColor": "#999", "domainWidth": 1.5, "tickSize": 6, "tickColor": "#444", "tickWidth": 1.2, "labelFontSize": 13, "labelColor": "#222", "labelPadding": 3, "labelFlush": false}}},
 "layer": [
  {"data": {"name": "tr"}, "transform": [{"filter": "datum.p == 'fl3'"}], "mark": {"type": "line", "color": "#6e6e6e", "strokeWidth": 1.1}},
  {"data": {"name": "arr"}, "transform": [{"filter": "datum.p == 'fl3'"}], "mark": {"type": "point", "shape": "M-0.11,-1L0.11,-1L0.11,0.15L0.45,0.15L0,1L-0.45,0.15L-0.11,0.15Z", "filled": true, "color": "#6a6a6a", "size": 650, "opacity": 1, "strokeWidth": 0}},
  {"data": {"name": "ann"}, "transform": [{"filter": "datum.p == 'fl3' && datum.k == 'cond'"}], "mark": {"type": "text", "fontSize": 18, "color": "#111"}, "encoding": {"text": {"field": "label", "type": "nominal"}}},
  {"data": {"name": "ann"}, "transform": [{"filter": "datum.p == 'fl3' && datum.k == 'ytitle'"}], "mark": {"type": "text", "fontSize": 19, "fontWeight": "bold", "angle": 270, "color": "#111"}, "encoding": {"text": {"field": "label", "type": "nominal"}}}
 ]},
{"width": 390, "height": 101,
 "encoding": {"x": {"field": "t", "type": "quantitative", "scale": {"domain": [15, 40.8], "nice": false, "zero": false}, "axis": {"values": [15,20,25,30,35,40], "tickSize": 6, "tickColor": "#444", "tickWidth": 1.2, "domainColor": "#999", "domainWidth": 1.5, "labelFontSize": 17, "labelColor": "#222", "labelFlush": false, "labelPadding": 2, "title": "Rₜ (min)", "titleFontSize": 19, "titleFontWeight": "bold", "titleColor": "#111", "titlePadding": 3}},
  "y": {"field": "v", "type": "quantitative", "scale": {"domain": [-4.3, 212], "nice": false, "zero": false}, "axis": {"values": [0,100,200], "title": null, "domainColor": "#999", "domainWidth": 1.5, "tickSize": 6, "tickColor": "#444", "tickWidth": 1.2, "labelFontSize": 13, "labelColor": "#222", "labelPadding": 3, "labelFlush": false}}},
 "layer": [
  {"data": {"name": "tr"}, "transform": [{"filter": "datum.p == 'fl4'"}], "mark": {"type": "line", "color": "#6e6e6e", "strokeWidth": 1.1}},
  {"data": {"name": "arr"}, "transform": [{"filter": "datum.p == 'fl4'"}], "mark": {"type": "point", "shape": "M-0.11,-1L0.11,-1L0.11,0.15L0.45,0.15L0,1L-0.45,0.15L-0.11,0.15Z", "filled": true, "color": "#000", "size": 650, "opacity": 1, "strokeWidth": 0}},
  {"data": {"name": "ann"}, "transform": [{"filter": "datum.p == 'fl4' && datum.k == 'cond'"}], "mark": {"type": "text", "fontSize": 18, "color": "#111"}, "encoding": {"text": {"field": "label", "type": "nominal"}}}
 ]}
], "spacing": 0, "bounds": "flush"}
], "spacing": 38},
{"hconcat": [
{"width": 222, "height": 160,
 "encoding": {"x": {"field": "mz", "type": "quantitative", "scale": {"domain": [921.5, 1076], "nice": false, "zero": false}, "axis": {"values": [925,950,975,1000,1025,1050,1075], "format": "d", "labelExpr": "datum.value % 50 == 25 ? datum.label : ''", "title": null, "domainColor": "#333", "domainWidth": 1.5, "tickColor": "#222", "tickWidth": 2, "tickSize": 8, "labelFontSize": 15, "labelColor": "#222", "labelFlush": false, "labelPadding": 3}},
  "y": {"field": "i", "type": "quantitative", "scale": {"domain": [459, 2106], "nice": false, "zero": false}, "axis": {"values": [500,1000,1500,2000], "format": "d", "title": "Intensity", "titleFontSize": 22, "titleFontWeight": "bold", "titleColor": "#111", "titlePadding": 8, "domainColor": "#333", "domainWidth": 1.5, "tickColor": "#222", "tickWidth": 2, "tickSize": 8, "labelFontSize": 15, "labelColor": "#222", "labelPadding": 3, "labelFlush": false}}},
 "layer": [
  {"data": {"name": "ms"}, "transform": [{"filter": "datum.p == 'b1'"}], "mark": {"type": "line", "color": "#333", "strokeWidth": 1}},
  {"data": {"name": "msann"}, "transform": [{"filter": "datum.p == 'b1' && datum.k == 'bold'"}], "mark": {"type": "text", "fontSize": 19, "fontWeight": "bold", "color": "#111"}, "encoding": {"text": {"field": "label", "type": "nominal"}}},
  {"data": {"name": "msann"}, "transform": [{"filter": "datum.p == 'b1' && datum.k == 'norm'"}], "mark": {"type": "text", "fontSize": 19, "color": "#111"}, "encoding": {"text": {"field": "label", "type": "nominal"}}},
  {"data": {"name": "msann"}, "transform": [{"filter": "datum.p == 'b1' && datum.k == 'letter'"}], "mark": {"type": "text", "fontSize": 21, "fontWeight": "bold", "font": "Liberation Serif", "color": "#111"}, "encoding": {"text": {"field": "label", "type": "nominal"}}}
 ]},
{"hconcat": [
{"width": 233, "height": 160,
 "encoding": {"x": {"field": "mz", "type": "quantitative", "scale": {"domain": [442, 1072], "nice": false, "zero": false}, "axis": {"values": [450,550,650,750,850,950,1050], "format": "d", "labelExpr": "datum.value % 200 == 150 ? datum.label : ''", "title": "m/z (Da)", "titleFontSize": 21, "titleFontWeight": "bold", "titleColor": "#111", "titleX": 128, "titleAlign": "center", "titlePadding": 2, "domainColor": "#333", "domainWidth": 1.5, "tickColor": "#222", "tickWidth": 2, "tickSize": 8, "labelFontSize": 15, "labelColor": "#222", "labelFlush": false, "labelPadding": 3}},
  "y": {"field": "i", "type": "quantitative", "scale": {"domain": [753, 4054], "nice": false, "zero": false}, "axis": {"values": [1000,2000,3000,4000], "format": "d", "title": null, "domainColor": "#333", "domainWidth": 1.5, "tickColor": "#222", "tickWidth": 2, "tickSize": 8, "labelFontSize": 15, "labelColor": "#222", "labelPadding": 3, "labelFlush": false}}},
 "layer": [
  {"data": {"name": "ms"}, "transform": [{"filter": "datum.p == 'b2'"}], "mark": {"type": "line", "color": "#333", "strokeWidth": 1}},
  {"data": {"name": "msann"}, "transform": [{"filter": "datum.p == 'b2' && datum.k == 'bold'"}], "mark": {"type": "text", "fontSize": 19, "fontWeight": "bold", "color": "#111"}, "encoding": {"text": {"field": "label", "type": "nominal"}}},
  {"data": {"name": "msann"}, "transform": [{"filter": "datum.p == 'b2' && datum.k == 'norm'"}], "mark": {"type": "text", "fontSize": 19, "color": "#111"}, "encoding": {"text": {"field": "label", "type": "nominal"}}}
 ]},
{"width": 226, "height": 160,
 "encoding": {"x": {"field": "mz", "type": "quantitative", "scale": {"domain": [1700, 1950], "nice": false, "zero": false}, "axis": {"values": [1700,1750,1800,1850,1900,1950], "format": "d", "labelExpr": "datum.value % 100 == 0 ? datum.label : ''", "title": null, "domainColor": "#333", "domainWidth": 1.5, "tickColor": "#222", "tickWidth": 2, "tickSize": 8, "labelFontSize": 15, "labelColor": "#222", "labelFlush": false, "labelPadding": 3}},
  "y": {"field": "i", "type": "quantitative", "scale": {"type": "log", "domain": [1215, 11740], "nice": false}, "axis": {"values": [1250,2500,5000,10000], "labelExpr": "datum.value >= 10000 ? '10,000' : format(datum.value, 'd')", "title": null, "domainColor": "#333", "domainWidth": 1.5, "tickColor": "#222", "tickWidth": 2, "tickSize": 8, "labelFontSize": 15, "labelColor": "#222", "labelPadding": 3, "labelFlush": false}}},
 "layer": [
  {"data": {"name": "ms"}, "transform": [{"filter": "datum.p == 'b3'"}], "mark": {"type": "line", "color": "#333", "strokeWidth": 1}},
  {"data": {"name": "msann"}, "transform": [{"filter": "datum.p == 'b3' && datum.k == 'bold'"}], "mark": {"type": "text", "fontSize": 19, "fontWeight": "bold", "color": "#111"}, "encoding": {"text": {"field": "label", "type": "nominal"}}},
  {"data": {"name": "msann"}, "transform": [{"filter": "datum.p == 'b3' && datum.k == 'norm'"}], "mark": {"type": "text", "fontSize": 19, "color": "#111"}, "encoding": {"text": {"field": "label", "type": "nominal"}}}
 ]}
], "spacing": 38}
], "spacing": 18}
],
"spacing": 22
}
